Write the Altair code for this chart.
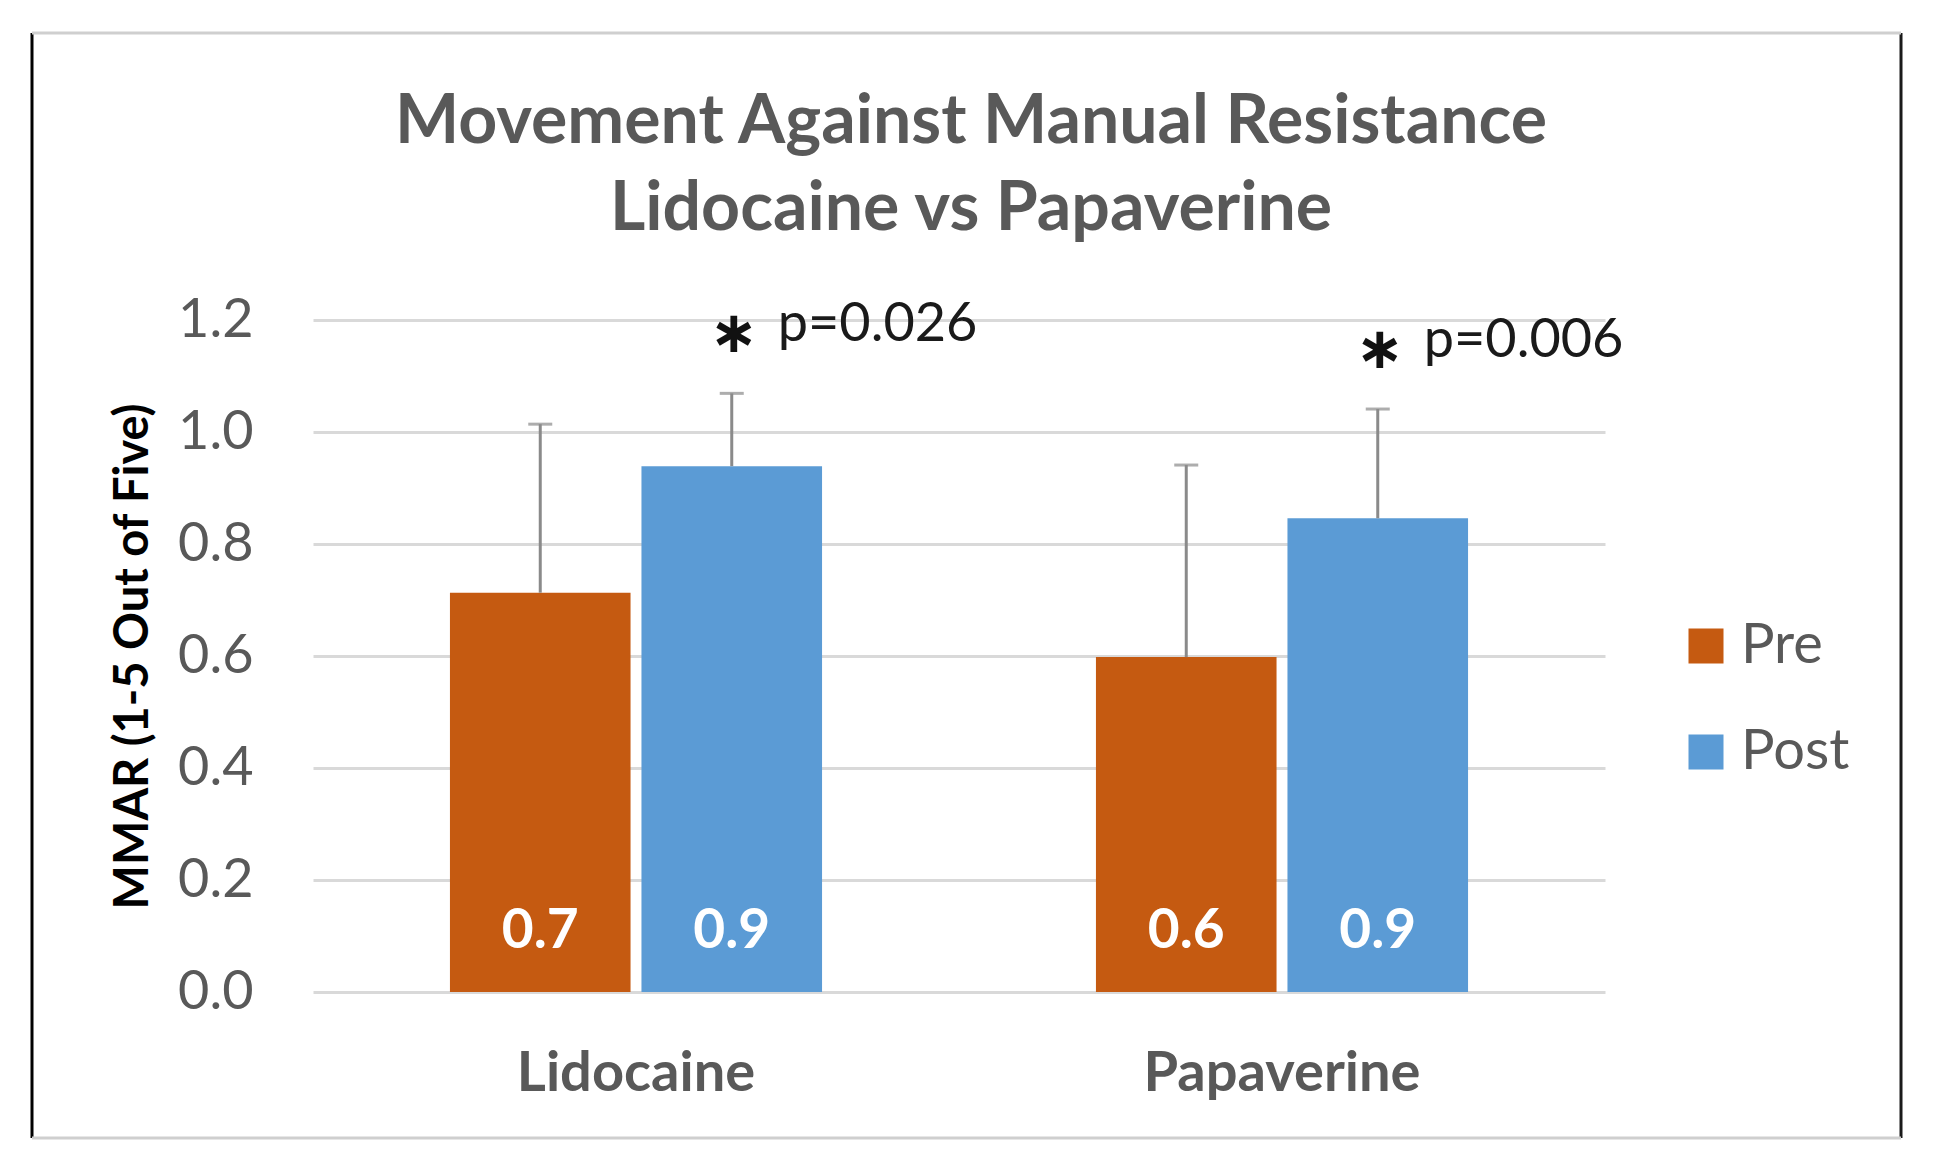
import altair as alt
import pandas as pd

# ---- data ----
drugs = ["Lidocaine", "Lidocaine", "Papaverine", "Papaverine"]
phases = ["Pre", "Post", "Pre", "Post"]
means = [0.713, 0.939, 0.598, 0.846]
err_tops = [1.014, 1.069, 0.941, 1.041]
bar_labels = ["0.7", "0.9", "0.6", "0.9"]
stars = ["", "∗", "", "∗"]
p_labels = ["", "p=0.026", "", "p=0.006"]
categories = ["Lidocaine", "Papaverine"]
series = ["Pre", "Post"]
colors = ["#C55A11", "#5B9BD5"]
y_ticks = [0.0, 0.2, 0.4, 0.6, 0.8, 1.0, 1.2]
label_level = 0.109

df = pd.DataFrame({
    "drug": drugs, "phase": phases, "mean": means, "err_top": err_tops,
    "bar_label": bar_labels, "star": stars, "p_label": p_labels,
})

FONT = "Lato"
GRAY = "#595959"

x_enc = alt.X("drug:N", sort=categories,
              scale=alt.Scale(paddingInner=0.424, paddingOuter=0.212),
              axis=alt.Axis(title=None, labelFont=FONT, labelFontSize=56,
                            labelFontWeight="bold", labelColor=GRAY,
                            labelPadding=98, labelBaseline="alphabetic",
                            labelLimit=1000,
                            ticks=False, tickSize=0, domain=False, labelAngle=0))
xo_enc = alt.XOffset("phase:N", sort=series,
                     scale=alt.Scale(paddingInner=0.057, paddingOuter=0))
y_scale = alt.Scale(domain=[0, 1.2], nice=False)

base = alt.Chart(df)

bars = base.mark_bar().encode(
    x=x_enc, xOffset=xo_enc,
    y=alt.Y("mean:Q", scale=y_scale,
            axis=alt.Axis(values=y_ticks, format=".1f", grid=True,
                          gridColor="#d9d9d9", gridWidth=3,
                          ticks=False, tickSize=0, domain=False,
                          labelFont=FONT, labelFontSize=54, labelColor=GRAY,
                          labelPadding=60,
                          title="MMAR (1-5 Out of Five)", titleFont=FONT,
                          titleFontSize=47, titleFontWeight="bold",
                          titleColor="#000000", titleAngle=270,
                          titleX=-180, titleY=336, titleAlign="center",
                          titleBaseline="middle", titleLimit=1000)),
    color=alt.Color("phase:N", sort=series,
                    scale=alt.Scale(domain=series, range=colors),
                    legend=alt.Legend(title=None, orient="none",
                                      legendX=1365, legendY=298,
                                      symbolType="square", symbolSize=1225,
                                      symbolStrokeWidth=0,
                                      labelFont=FONT, labelFontSize=56,
                                      labelColor=GRAY, labelOffset=7,
                                      rowPadding=50, padding=0)),
)

err_rule = base.mark_rule(color="#8a8a8a", strokeWidth=3).encode(
    x=x_enc, xOffset=xo_enc,
    y=alt.Y("mean:Q", scale=y_scale), y2="err_top:Q",
)
err_cap = base.mark_tick(color="#8a8a8a", thickness=3, size=24).encode(
    x=x_enc, xOffset=xo_enc,
    y=alt.Y("err_top:Q", scale=y_scale),
)

value_text = base.mark_text(font=FONT, fontSize=55, fontWeight="bold",
                            color="white", baseline="middle").encode(
    x=x_enc, xOffset=xo_enc,
    y=alt.Y(datum=label_level, scale=y_scale),
    text="bar_label:N",
)

post_only = base.transform_filter(alt.datum.phase == "Post")
star_text = post_only.mark_text(font="DejaVu Sans", fontSize=58,
                                fontWeight="bold", color="#111111",
                                baseline="middle", dy=-58, dx=2).encode(
    x=x_enc, xOffset=xo_enc,
    y=alt.Y("err_top:Q", scale=y_scale),
    text="star:N",
)
p_text = post_only.mark_text(font=FONT, fontSize=54, color="#1a1a1a",
                             align="left", baseline="alphabetic",
                             dy=-52, dx=46).encode(
    x=x_enc, xOffset=xo_enc,
    y=alt.Y("err_top:Q", scale=y_scale),
    text="p_label:N",
)

# ---- outer frame of the figure ----
one = alt.Chart(pd.DataFrame({"k": [0]}))
frame_left = one.mark_rule(color="#000000", strokeWidth=3).encode(
    x=alt.value(-281), y=alt.value(-287), y2=alt.value(818))
frame_right = one.mark_rule(color="#1a1a1a", strokeWidth=3).encode(
    x=alt.value(1588), y=alt.value(-287), y2=alt.value(818))
frame_top = one.mark_rule(color="#cfcfcf", strokeWidth=3).encode(
    x=alt.value(-281), x2=alt.value(1588), y=alt.value(-287))
frame_bottom = one.mark_rule(color="#cfcfcf", strokeWidth=3).encode(
    x=alt.value(-281), x2=alt.value(1588), y=alt.value(818))

chart = alt.layer(
    bars, err_rule, err_cap, value_text, star_text, p_text,
    frame_left, frame_right, frame_top, frame_bottom,
).properties(
    width=1292, height=672,
    padding={"left": 305, "top": 312, "right": 318, "bottom": 168},
    autosize=alt.AutoSizeParams(type="none"),
    background="white",
    title=alt.TitleParams(
        text=["Movement Against Manual Resistance", "Lidocaine vs Papaverine"],
        font=FONT, fontSize=68, fontWeight="bold", color=GRAY,
        lineHeight=87, anchor="middle", frame="group", dx=12, offset=-212,
    ),
).configure_view(stroke=None)

chart.save("out.html", embed_options={"renderer": "svg", "actions": False})
